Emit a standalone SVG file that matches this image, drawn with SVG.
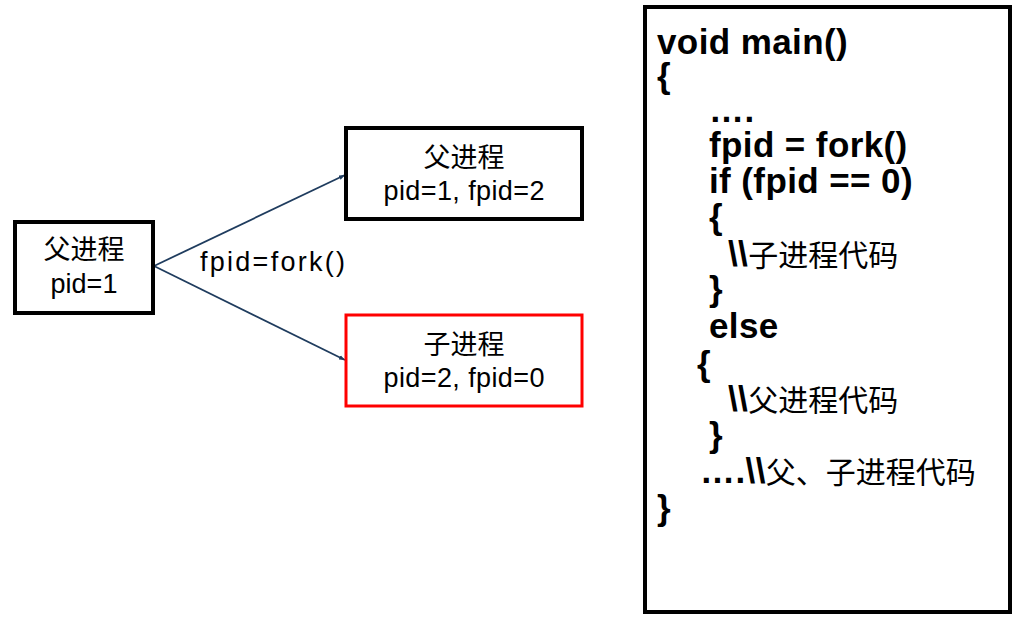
<svg xmlns="http://www.w3.org/2000/svg" width="1034" height="620" viewBox="0 0 1034 620">
<defs>
<style>
.t{font-family:"Liberation Sans","Noto Sans CJK SC",sans-serif;fill:#000}
.n{font-size:27px;text-anchor:middle}
.c{font-size:35px;font-weight:bold;letter-spacing:0.4px}
.z{font-weight:normal;font-size:30px;letter-spacing:0}
.box{fill:#fff;stroke:#000;stroke-width:4}
.edge{stroke:#1f3c5e;stroke-width:1.8;fill:none}
</style>
<marker id="ah" viewBox="0 0 10 10" refX="10" refY="5" markerWidth="6" markerHeight="6" orient="auto" markerUnits="userSpaceOnUse">
<path d="M0,1 L10,5 L0,9 z" fill="#1f3c5e"/>
</marker>
</defs>
<rect width="1034" height="620" fill="#fff"/>
<g id="connectors">
<line class="edge" x1="154" y1="266" x2="345" y2="175" marker-end="url(#ah)"/>
<line class="edge" x1="154" y1="266" x2="345" y2="360" marker-end="url(#ah)"/>
<text class="t" x="200" y="271" font-size="27" textLength="145" lengthAdjust="spacing">fpid=fork()</text>
</g>
<g id="parent">
<rect class="box" x="15" y="222" width="138" height="91"/>
<text class="t n" x="84" y="259">父进程</text>
<text class="t n" x="84" y="293">pid=1</text>
</g>
<g id="parent-after">
<rect class="box" x="346" y="128" width="236" height="91"/>
<text class="t n" x="464" y="167">父进程</text>
<text class="t n" x="464" y="200" textLength="161" lengthAdjust="spacing">pid=1, fpid=2</text>
</g>
<g id="child">
<rect x="346" y="315" width="236" height="91" fill="#fff" stroke="#ff0000" stroke-width="3"/>
<text class="t n" x="464" y="354">子进程</text>
<text class="t n" x="464" y="387" textLength="161" lengthAdjust="spacing">pid=2, fpid=0</text>
</g>
<g id="code">
<rect class="box" x="645" y="7" width="365" height="605"/>
<text class="t c" x="657" y="54">void main()</text>
<text class="t c" x="657" y="88">{</text>
<text class="t c" x="709" y="122">….</text>
<text class="t c" x="709" y="157">fpid = fork()</text>
<text class="t c" x="709" y="193">if (fpid == 0)</text>
<text class="t c" x="709" y="229">{</text>
<text class="t c" x="728" y="266"><tspan>\\</tspan><tspan class="z">子进程代码</tspan></text>
<text class="t c" x="709" y="301">}</text>
<text class="t c" x="709" y="338">else</text>
<text class="t c" x="697" y="376">{</text>
<text class="t c" x="728" y="411"><tspan>\\</tspan><tspan class="z">父进程代码</tspan></text>
<text class="t c" x="709" y="447">}</text>
<text class="t c" x="700" y="483">….\\<tspan class="z">父、子进程代码</tspan></text>
<text class="t c" x="657" y="520">}</text>
</g>
</svg>
